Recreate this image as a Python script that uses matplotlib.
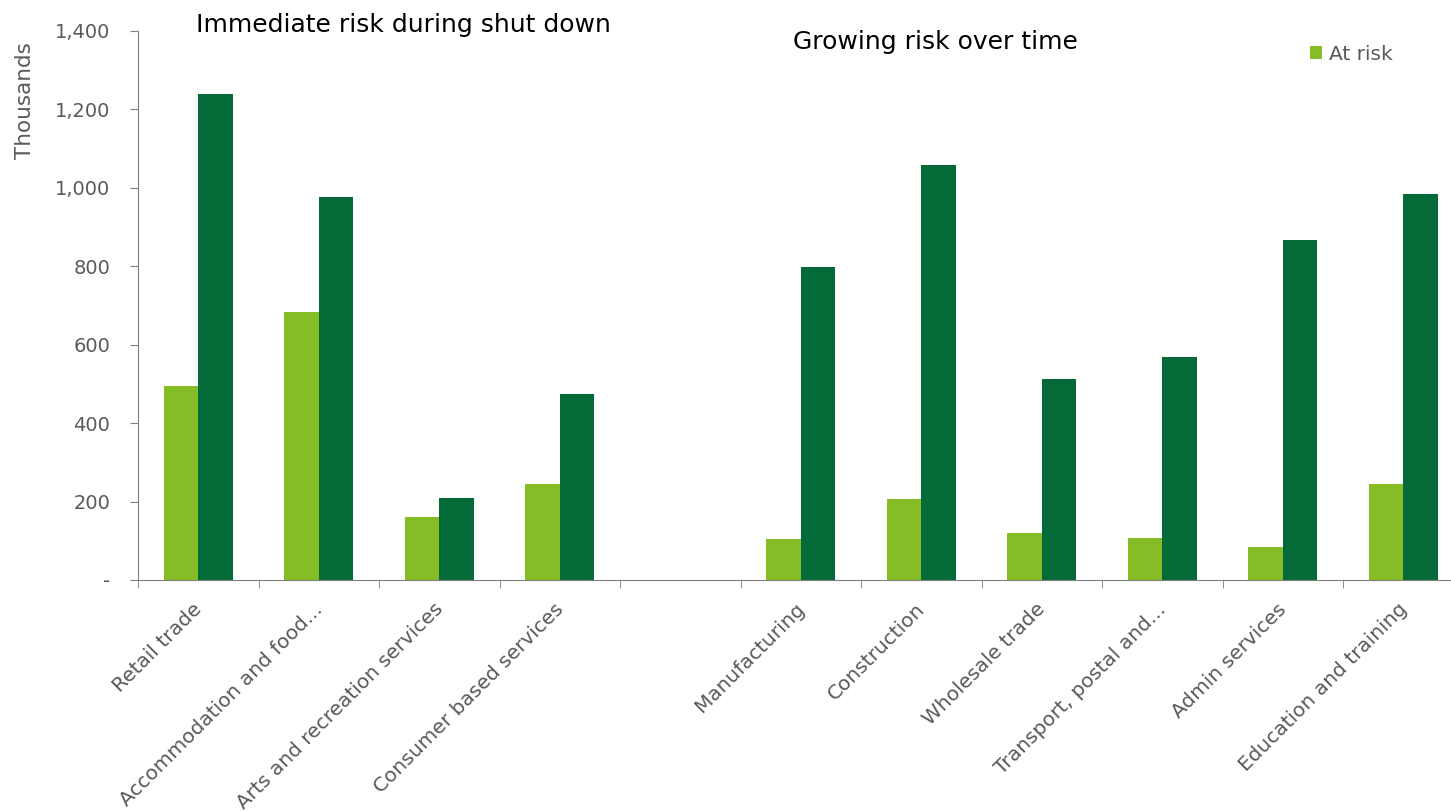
import numpy as np
import matplotlib.pyplot as plt
import matplotlib.transforms as mtransforms
from matplotlib.ticker import FuncFormatter

# data (thousands)
categories = ['Retail trade', 'Accommodation and food...', 'Arts and recreation services',
              'Consumer based services', '', 'Manufacturing', 'Construction', 'Wholesale trade',
              'Transport, postal and...', 'Admin services', 'Education and training']
at_risk = [495, 683, 161, 245, 0, 105, 207, 120, 107, 84, 245]
total = [1239, 977, 209, 474, 0, 798, 1058, 513, 569, 867, 984]

light = '#86bc25'
dark = '#046a38'
grey = '#595959'

fig = plt.figure(figsize=(14.51, 8.11), dpi=100)
ax = fig.add_axes([138 / 1451, 1 - 580 / 811, (1463.5 - 138) / 1451, (580 - 31) / 811])

x = np.arange(len(categories))
w = 0.286
ax.bar(x - w / 2, at_risk, w, color=light, label='At risk')
ax.bar(x + w / 2, total, w, color=dark)

ax.set_xlim(-0.5, len(categories) - 0.5)
ax.set_ylim(0, 1400)
ax.set_yticks(np.arange(0, 1401, 200))
ax.yaxis.set_major_formatter(FuncFormatter(lambda v, p: '-' if v == 0 else f'{int(v):,}'))

ax.set_xticks(x)
ax.set_xticklabels(categories, rotation=45, ha='right', va='top', rotation_mode='anchor')
ax.set_xticks(np.arange(-0.5, len(categories), 1), minor=True)
ax.tick_params(axis='x', which='major', length=0, pad=14, labelsize=14.5, labelcolor=grey)
ax.tick_params(axis='x', which='minor', length=6, color='#808080')
ax.tick_params(axis='y', length=6, color='#808080', labelsize=14, labelcolor=grey, pad=14)
shift = mtransforms.ScaledTranslation(-6 / 100, 0, fig.dpi_scale_trans)
for lab in ax.get_xticklabels():
    lab.set_transform(lab.get_transform() + shift)

for s in ['top', 'right']:
    ax.spines[s].set_visible(False)
ax.spines['left'].set_color('#808080')
ax.spines['bottom'].set_color('#808080')

ax.set_ylabel('Thousands', fontsize=15.5, color=grey)
ax.yaxis.set_label_coords(-0.078, 0.874)

fig.text(403 / 1451, 1 - 25 / 811, 'Immediate risk during shut down', fontsize=18,
         ha='center', va='center', color='black')
fig.text(935 / 1451, 1 - 42 / 811, 'Growing risk over time', fontsize=18,
         ha='center', va='center', color='black')

ax.legend(loc='center left', bbox_to_anchor=(1292 / 1451, 1 - 54 / 811), bbox_transform=fig.transFigure,
          frameon=False, fontsize=14.5, labelcolor=grey, handlelength=0.6, handleheight=0.6,
          handletextpad=0.35)

fig.savefig('out.png', dpi=100)
